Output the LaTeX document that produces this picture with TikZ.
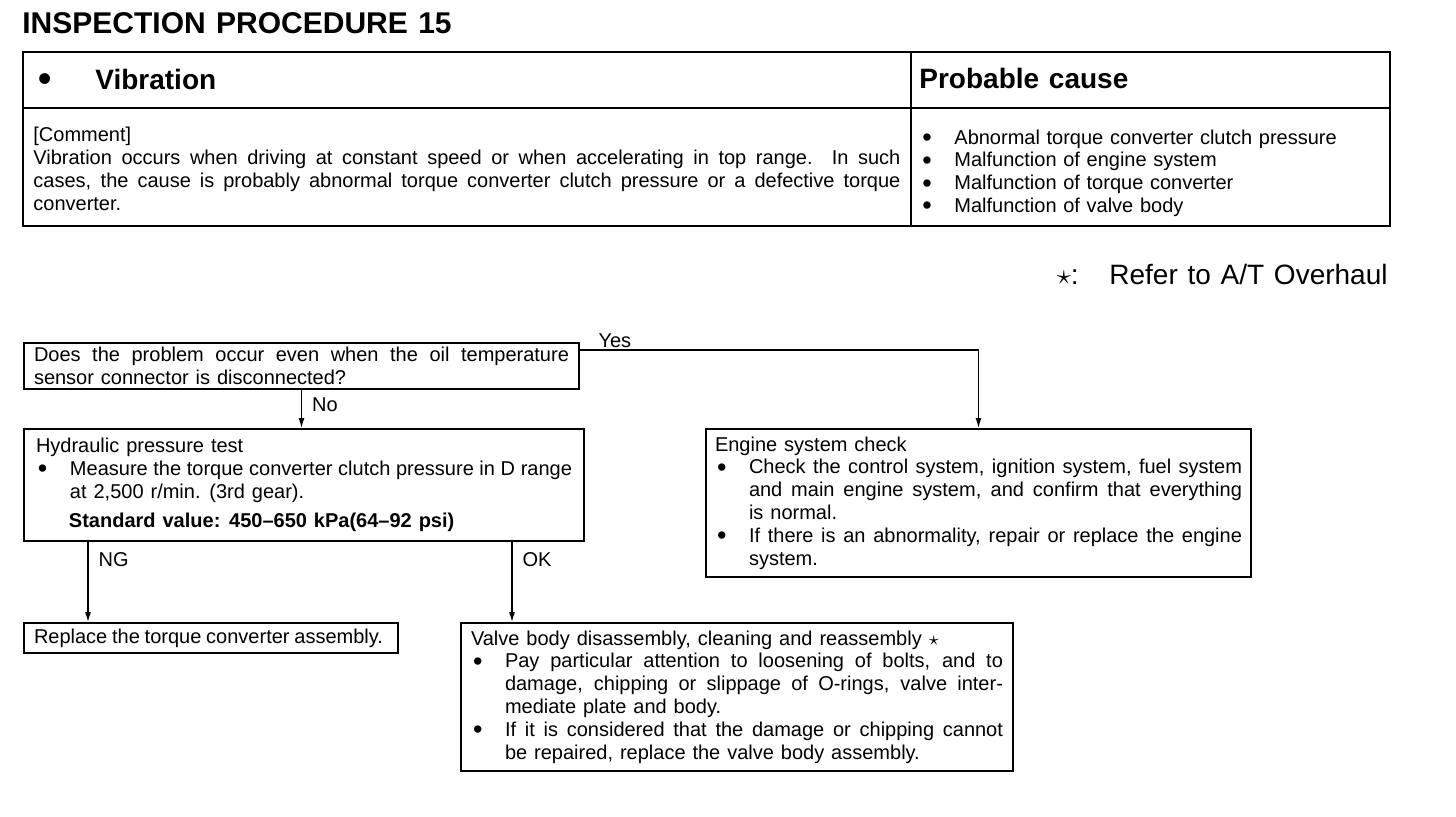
\documentclass[tikz,border=0pt]{standalone}
\usepackage{fontspec}
\setmainfont{Liberation Sans}[WordSpace=1.25]
\usepackage{graphicx}
\usepackage{tikz}
\usetikzlibrary{arrows.meta,positioning,calc}
\setlength{\parindent}{0pt}
\newcommand{\bodyfont}{\fontsize{10}{11.4}\selectfont}
\newcommand{\headfont}{\fontsize{14}{16}\selectfont\bfseries}
\newcommand{\bdot}{\smash{\raisebox{-0.12em}{\scalebox{1.35}{\textbullet}}}}
\newcommand{\bul}{\par\noindent\hangindent=17pt\hangafter=1\hbox to 17pt{\hskip1pt\bdot\hfil}}

\begin{document}
\begin{tikzpicture}[x=0.5pt, y=-0.5pt,
        flowbox/.style={draw, line width=1pt, anchor=north west, inner ysep=0pt, align=justify, font=\bodyfont},
        cell/.style={inner sep=0pt, font=\bodyfont},
        lbl/.style={font=\bodyfont, inner sep=1pt},
        conn/.style={line width=0.6pt},
        arrow/.style={conn, -{Latex[length=5pt,width=3pt]}}]

    \useasboundingbox (0,0) rectangle (1456,816);

    \node[anchor=base west, inner sep=0pt, font=\fontsize{15}{17}\selectfont\bfseries] (title) at (22,33) {INSPECTION PROCEDURE 15};

    % symptom table
    \draw[line width=1.2pt] (23,52) rectangle (1390,226);
    \draw[line width=1pt] (23,108) -- (1390,108);
    \draw[line width=1pt] (911,52) -- (911,226);

    \node[font=\headfont, anchor=base, inner sep=0pt] (sym) at (45,88) {\bdot};
    \node[font=\headfont, anchor=base west, inner sep=0pt] (symptom) at (95,89) {Vibration};
    \node[font=\headfont, anchor=base west, inner sep=0pt] (causehd) at (919,88) {Probable cause};

    \node[cell, anchor=west, text width=433.5pt, align=justify] (comment) at (33,169) {[Comment]\par Vibration occurs when driving at constant speed or when accelerating in top range.\ \ In such\linebreak cases, the cause is probably abnormal torque converter clutch pressure or a defective torque\linebreak converter.\par};
    \node[cell, anchor=west, text width=230pt, align=left] (causes) at (920,169) {\bul Abnormal torque converter clutch pressure\bul Malfunction of engine system\bul Malfunction of torque converter\bul Malfunction of valve body\par};

    \node[anchor=base east, inner sep=0pt, font=\fontsize{14}{16}\selectfont] (note) at (1388,284) {$\star$:\hspace{1.1em}Refer to A/T Overhaul};

    % flow chart
    \node[flowbox, text width=267.5pt, inner xsep=5pt, minimum height=23pt] (q) at (23,342) {Does the problem occur even when the oil temperature\linebreak sensor connector is disconnected?};
    \node[flowbox, text width=268pt, inner xsep=6pt, minimum height=56pt] (h) at (23,428) {Hydraulic pressure test\bul {\spaceskip=1.5pt plus 3pt minus 0.5pt Measure the torque converter clutch pressure in D range}\linebreak at 2,500 r/min. (3rd gear).\par\vspace{3.5pt}\noindent\hspace*{16.5pt}\textbf{Standard value: 450--650 kPa(64--92 psi)}\par};
    \node[flowbox, text width=263.5pt, inner xsep=4.5pt, minimum height=74pt] (e) at (705,428) {Engine system check\bul Check the control system, ignition system, fuel system\linebreak and main engine system, and confirm that everything\linebreak is normal.\bul If there is an abnormality, repair or replace the engine\linebreak system.\par};
    \node[flowbox, text width=177pt, inner xsep=5pt, minimum height=15pt, align=left] (r) at (23,622) {{\spaceskip=2.4pt plus 1pt minus 0.5pt Replace the torque converter assembly.}};
    \node[flowbox, text width=266pt, inner xsep=5pt, minimum height=74pt] (v) at (460,622) {Valve body disassembly, cleaning and reassembly $\star$\bul Pay particular attention to loosening of bolts, and to\linebreak damage, chipping or slippage of O-rings, valve inter-\linebreak mediate plate and body.\bul If it is considered that the damage or chipping cannot\linebreak be repaired, replace the valve body assembly.\par};

    \coordinate (yes) at ([yshift=-4pt]q.north east);
    \coordinate (ng) at ([xshift=32.5pt]r.north west);
    \coordinate (ok) at ([xshift=26pt]v.north west);

    \draw[arrow] (yes) -| node[lbl, pos=0.02, anchor=south west] {Yes} (e.north);
    \draw[arrow] (q.south) -- node[lbl, pos=0.4, right=4pt] {No} (q.south |- h.north);
    \draw[arrow] (ng |- h.south) -- node[lbl, pos=0.22, right=4pt] {NG} (ng);
    \draw[arrow] (ok |- h.south) -- node[lbl, pos=0.22, right=4pt] {OK} (ok);
\end{tikzpicture}
\end{document}
